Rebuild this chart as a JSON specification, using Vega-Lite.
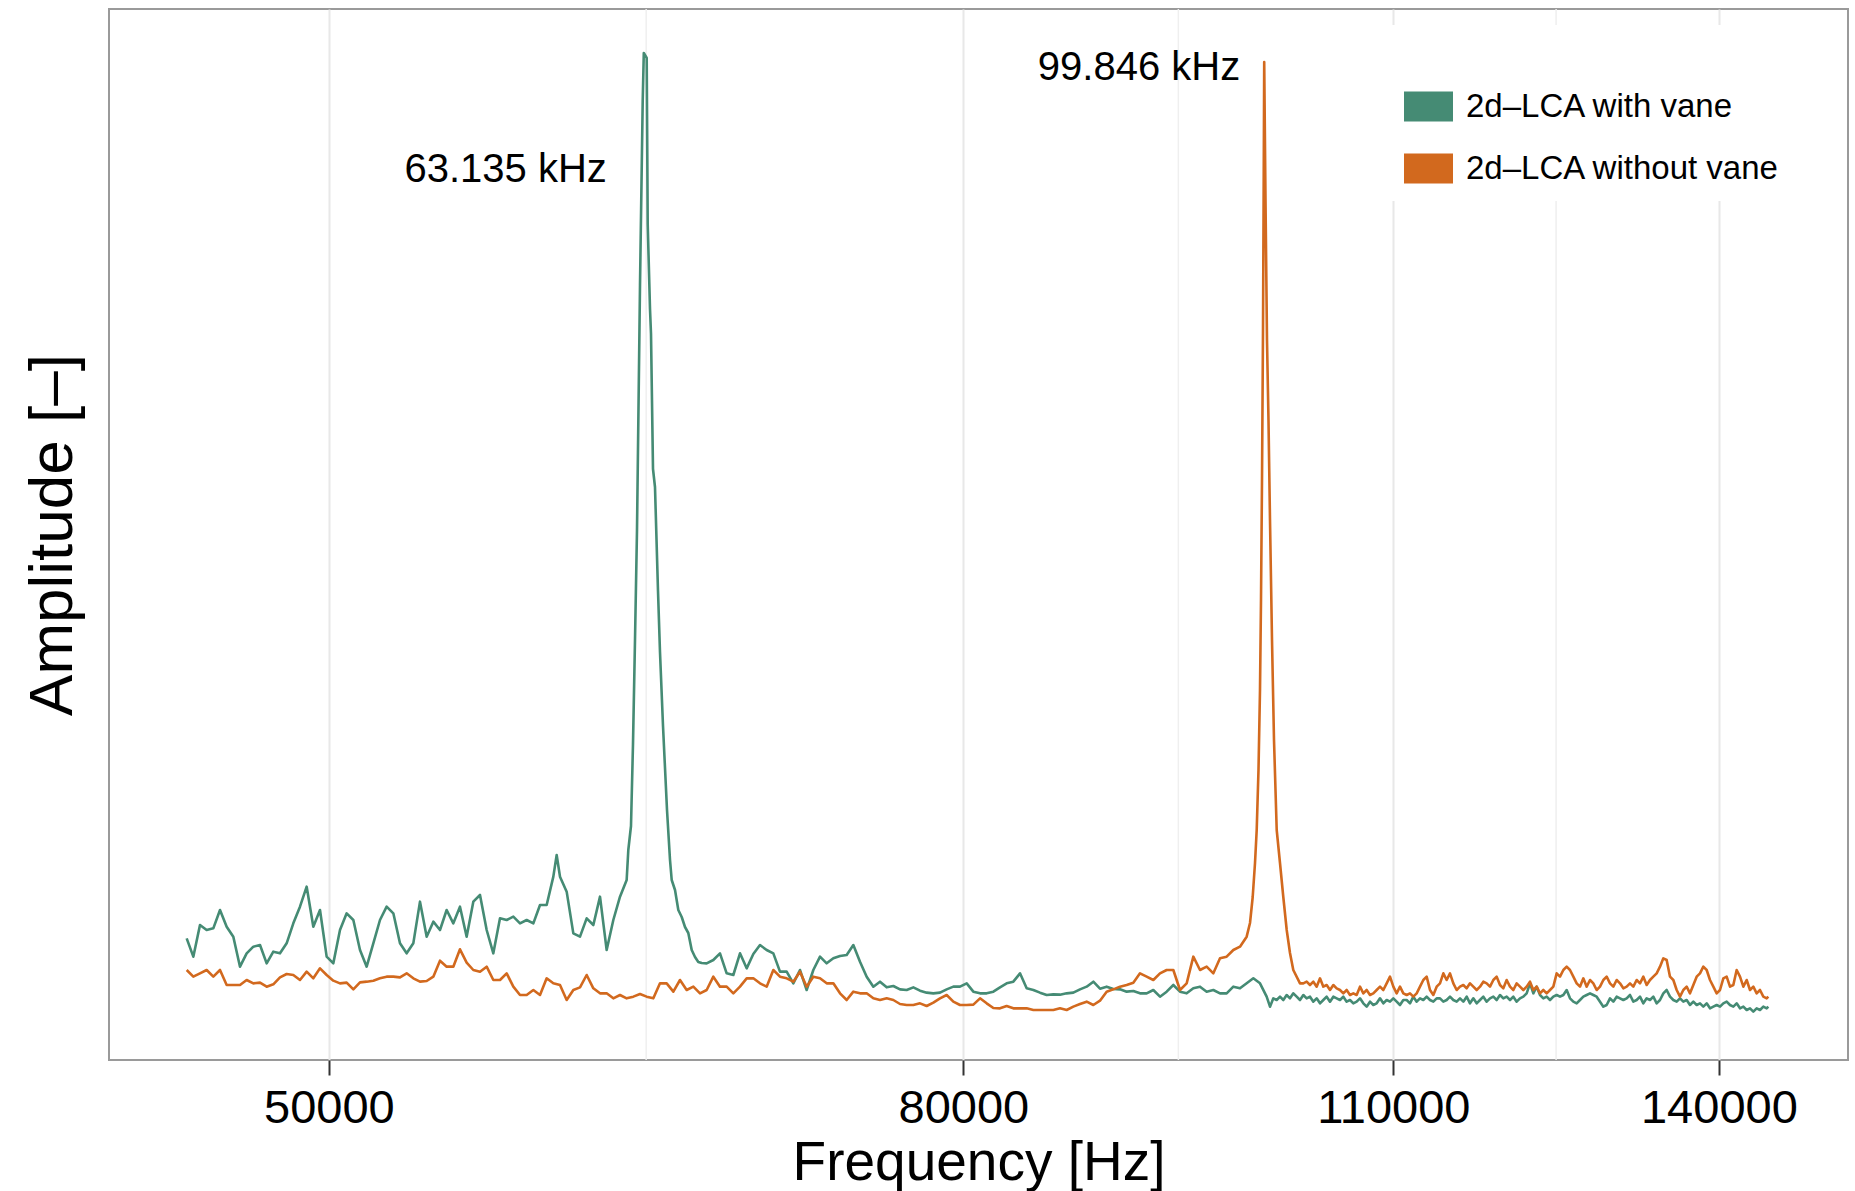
{
  "$schema": "https://vega.github.io/schema/vega-lite/v6.json",
  "width": 1739,
  "height": 1051,
  "autosize": {"type": "none"},
  "padding": {"left": 109, "top": 9, "right": 7, "bottom": 131},
  "background": "white",
  "config": {
    "font": "Liberation Sans",
    "view": {"stroke": "#9a9a9a", "strokeWidth": 2, "fill": "white"}
  },
  "datasets": {
    "withVane": [
      {"frequency":45000,"amplitude":36.5},{"frequency":45222,"amplitude":31.0},{"frequency":45446,"amplitude":40.5},{"frequency":45671,"amplitude":39.0},{"frequency":45897,"amplitude":39.5},{"frequency":46125,"amplitude":45.0},{"frequency":46353,"amplitude":40.0},{"frequency":46582,"amplitude":37.0},{"frequency":46813,"amplitude":28.0},{"frequency":47045,"amplitude":32.0},{"frequency":47278,"amplitude":34.0},{"frequency":47512,"amplitude":34.5},{"frequency":47747,"amplitude":29.0},{"frequency":47983,"amplitude":32.5},{"frequency":48221,"amplitude":32.0},{"frequency":48459,"amplitude":35.0},{"frequency":48699,"amplitude":41.0},{"frequency":48940,"amplitude":46.0},{"frequency":49183,"amplitude":52.0},{"frequency":49426,"amplitude":40.0},{"frequency":49671,"amplitude":45.0},{"frequency":49917,"amplitude":31.0},{"frequency":50164,"amplitude":29.0},{"frequency":50412,"amplitude":39.0},{"frequency":50662,"amplitude":44.0},{"frequency":50913,"amplitude":42.0},{"frequency":51165,"amplitude":33.0},{"frequency":51418,"amplitude":28.0},{"frequency":51672,"amplitude":35.0},{"frequency":51928,"amplitude":42.0},{"frequency":52185,"amplitude":46.0},{"frequency":52444,"amplitude":44.0},{"frequency":52703,"amplitude":35.0},{"frequency":52964,"amplitude":32.0},{"frequency":53226,"amplitude":35.0},{"frequency":53490,"amplitude":47.5},{"frequency":53755,"amplitude":37.0},{"frequency":54021,"amplitude":41.5},{"frequency":54288,"amplitude":39.0},{"frequency":54557,"amplitude":45.0},{"frequency":54827,"amplitude":41.0},{"frequency":55098,"amplitude":46.0},{"frequency":55371,"amplitude":37.0},{"frequency":55645,"amplitude":47.5},{"frequency":55921,"amplitude":49.5},{"frequency":56198,"amplitude":39.0},{"frequency":56476,"amplitude":32.0},
      {"frequency":56756,"amplitude":42.5},{"frequency":57037,"amplitude":42.0},{"frequency":57319,"amplitude":43.0},{"frequency":57603,"amplitude":41.0},{"frequency":57888,"amplitude":42.0},{"frequency":58175,"amplitude":41.0},{"frequency":58463,"amplitude":46.5},{"frequency":58752,"amplitude":46.5},{"frequency":59043,"amplitude":55.0},{"frequency":59189,"amplitude":61.5},{"frequency":59335,"amplitude":55.0},{"frequency":59629,"amplitude":50.5},{"frequency":59924,"amplitude":38.0},{"frequency":60221,"amplitude":37.0},{"frequency":60519,"amplitude":42.5},{"frequency":60819,"amplitude":40.5},{"frequency":61120,"amplitude":49.0},{"frequency":61422,"amplitude":33.0},{"frequency":61726,"amplitude":42.0},{"frequency":62032,"amplitude":49.0},{"frequency":62339,"amplitude":54.0},
      {"frequency":62415,"amplitude":63.0},{"frequency":62539,"amplitude":70.2},{"frequency":62632,"amplitude":94.8},{"frequency":62725,"amplitude":126.0},{"frequency":62818,"amplitude":159.0},{"frequency":62958,"amplitude":232.5},{"frequency":63084,"amplitude":287.7},{"frequency":63135,"amplitude":302.1},{"frequency":63271,"amplitude":300.6},{"frequency":63318,"amplitude":250.8},{"frequency":63426,"amplitude":225.3},{"frequency":63473,"amplitude":217.8},{"frequency":63567,"amplitude":177.3},{"frequency":63661,"amplitude":171.9},{"frequency":63803,"amplitude":140.7},{"frequency":63897,"amplitude":122.4},{"frequency":64040,"amplitude":100.2},{"frequency":64230,"amplitude":75.0},{"frequency":64373,"amplitude":60.0},{"frequency":64454,"amplitude":54.0},{"frequency":64612,"amplitude":51.0},{"frequency":64770,"amplitude":45.0},{"frequency":64933,"amplitude":42.9},{"frequency":65092,"amplitude":39.9},{"frequency":65251,"amplitude":38.1},{"frequency":65416,"amplitude":33.0},{"frequency":65576,"amplitude":30.9},{"frequency":65736,"amplitude":29.4},{"frequency":65902,"amplitude":29.1},
      {"frequency":66145,"amplitude":29.0},{"frequency":66472,"amplitude":30.0},{"frequency":66801,"amplitude":32.0},{"frequency":67132,"amplitude":26.0},{"frequency":67464,"amplitude":25.5},{"frequency":67798,"amplitude":32.0},{"frequency":68134,"amplitude":27.5},{"frequency":68471,"amplitude":31.8},{"frequency":68810,"amplitude":34.5},{"frequency":69151,"amplitude":33.0},{"frequency":69493,"amplitude":32.0},{"frequency":69837,"amplitude":26.5},{"frequency":70183,"amplitude":26.5},{"frequency":70530,"amplitude":23.0},{"frequency":70879,"amplitude":27.0},{"frequency":71230,"amplitude":21.0},{"frequency":71583,"amplitude":27.0},
      {"frequency":71938,"amplitude":31.0},{"frequency":72294,"amplitude":29.0},{"frequency":72652,"amplitude":30.5},{"frequency":73012,"amplitude":31.2},{"frequency":73373,"amplitude":31.5},{"frequency":73736,"amplitude":34.5},{"frequency":74101,"amplitude":29.5},{"frequency":74468,"amplitude":25.0},{"frequency":74837,"amplitude":22.0},{"frequency":75207,"amplitude":23.5},{"frequency":75580,"amplitude":21.8},{"frequency":75954,"amplitude":22.2},{"frequency":76330,"amplitude":21.2},{"frequency":76708,"amplitude":21.0},{"frequency":77087,"amplitude":21.8},{"frequency":77469,"amplitude":20.8},{"frequency":77852,"amplitude":20.2},{"frequency":78238,"amplitude":20.0},{"frequency":78625,"amplitude":20.2},{"frequency":79014,"amplitude":21.2},{"frequency":79406,"amplitude":22.0},{"frequency":79799,"amplitude":22.0},{"frequency":80194,"amplitude":23.0},{"frequency":80591,"amplitude":20.5},{"frequency":80990,"amplitude":20.0},{"frequency":81391,"amplitude":20.0},{"frequency":81794,"amplitude":20.5},{"frequency":82198,"amplitude":21.8},{"frequency":82605,"amplitude":23.0},{"frequency":83014,"amplitude":23.5},{"frequency":83425,"amplitude":26.0},{"frequency":83838,"amplitude":21.5},{"frequency":84253,"amplitude":21.0},{"frequency":84670,"amplitude":20.2},{"frequency":85090,"amplitude":19.5},{"frequency":85511,"amplitude":19.7},{"frequency":85934,"amplitude":19.6},{"frequency":86359,"amplitude":20.0},{"frequency":86787,"amplitude":20.2},{"frequency":87217,"amplitude":21.2},{"frequency":87648,"amplitude":22.0},{"frequency":88082,"amplitude":23.5},{"frequency":88518,"amplitude":21.4},{"frequency":88956,"amplitude":22.0},{"frequency":89397,"amplitude":21.3},{"frequency":89839,"amplitude":21.2},{"frequency":90284,"amplitude":20.5},{"frequency":90731,"amplitude":20.7},
      {"frequency":91180,"amplitude":20.0},{"frequency":91631,"amplitude":20.0},{"frequency":92085,"amplitude":21.0},{"frequency":92541,"amplitude":19.0},{"frequency":92999,"amplitude":20.5},{"frequency":93459,"amplitude":22.5},{"frequency":93922,"amplitude":20.5},{"frequency":94387,"amplitude":20.0},{"frequency":94854,"amplitude":21.5},{"frequency":95324,"amplitude":22.0},{"frequency":95796,"amplitude":20.5},{"frequency":96270,"amplitude":21.0},{"frequency":96747,"amplitude":20.0},{"frequency":97225,"amplitude":20.0},{"frequency":97707,"amplitude":22.0},{"frequency":98190,"amplitude":21.5},{"frequency":98677,"amplitude":23.0},{"frequency":99165,"amplitude":24.5},{"frequency":99656,"amplitude":23.0},
      {"frequency":100149,"amplitude":19.0},{"frequency":100397,"amplitude":16.0},{"frequency":100645,"amplitude":18.5},{"frequency":100894,"amplitude":18.0},{"frequency":101143,"amplitude":19.0},{"frequency":101393,"amplitude":18.0},{"frequency":101644,"amplitude":19.5},{"frequency":101895,"amplitude":18.5},{"frequency":102147,"amplitude":20.0},{"frequency":102400,"amplitude":19.0},{"frequency":102653,"amplitude":18.0},{"frequency":102907,"amplitude":19.5},{"frequency":103161,"amplitude":18.5},{"frequency":103416,"amplitude":19.0},{"frequency":103672,"amplitude":17.5},{"frequency":103928,"amplitude":18.5},{"frequency":104185,"amplitude":17.0},{"frequency":104443,"amplitude":18.0},{"frequency":104701,"amplitude":19.0},{"frequency":104960,"amplitude":17.5},{"frequency":105219,"amplitude":19.0},{"frequency":105479,"amplitude":18.5},{"frequency":105740,"amplitude":18.0},{"frequency":106001,"amplitude":19.0},{"frequency":106263,"amplitude":17.5},{"frequency":106526,"amplitude":18.0},{"frequency":106789,"amplitude":17.0},{"frequency":107053,"amplitude":17.5},{"frequency":107318,"amplitude":18.5},{"frequency":107583,"amplitude":17.0},{"frequency":107849,"amplitude":16.0},{"frequency":108116,"amplitude":17.5},{"frequency":108383,"amplitude":16.5},{"frequency":108651,"amplitude":17.0},{"frequency":108920,"amplitude":18.5},{"frequency":109189,"amplitude":17.0},{"frequency":109459,"amplitude":18.0},{"frequency":109730,"amplitude":17.5},{"frequency":110001,"amplitude":18.5},{"frequency":110273,"amplitude":17.5},{"frequency":110545,"amplitude":16.5},{"frequency":110818,"amplitude":18.0},{"frequency":111093,"amplitude":18.0},{"frequency":111368,"amplitude":17.0},{"frequency":111643,"amplitude":19.0},{"frequency":111919,"amplitude":17.5},{"frequency":112195,"amplitude":18.5},{"frequency":112472,"amplitude":18.0},{"frequency":112751,"amplitude":19.0},{"frequency":113030,"amplitude":18.0},{"frequency":113309,"amplitude":17.5},{"frequency":113589,"amplitude":18.5},{"frequency":113870,"amplitude":18.5},{"frequency":114152,"amplitude":17.5},{"frequency":114433,"amplitude":18.0},{"frequency":114716,"amplitude":19.0},{"frequency":115000,"amplitude":18.0},{"frequency":115284,"amplitude":17.5},
      {"frequency":115570,"amplitude":18.5},{"frequency":115856,"amplitude":17.5},{"frequency":116142,"amplitude":19.0},{"frequency":116429,"amplitude":17.0},{"frequency":116717,"amplitude":18.5},{"frequency":117006,"amplitude":17.0},{"frequency":117295,"amplitude":18.0},{"frequency":117585,"amplitude":19.0},{"frequency":117876,"amplitude":17.5},{"frequency":118167,"amplitude":18.5},{"frequency":118459,"amplitude":19.0},{"frequency":118752,"amplitude":18.0},{"frequency":119046,"amplitude":19.5},{"frequency":119340,"amplitude":18.5},{"frequency":119635,"amplitude":19.0},{"frequency":119931,"amplitude":18.0},{"frequency":120227,"amplitude":19.0},{"frequency":120524,"amplitude":17.5},{"frequency":120822,"amplitude":18.5},{"frequency":121121,"amplitude":19.0},{"frequency":121420,"amplitude":20.0},{"frequency":121720,"amplitude":23.0},{"frequency":122022,"amplitude":20.0},{"frequency":122324,"amplitude":22.0},{"frequency":122626,"amplitude":19.5},{"frequency":122929,"amplitude":18.5},{"frequency":123233,"amplitude":19.0},{"frequency":123538,"amplitude":18.0},{"frequency":123843,"amplitude":19.0},{"frequency":124149,"amplitude":19.5},{"frequency":124456,"amplitude":19.0},{"frequency":124764,"amplitude":19.5},{"frequency":125072,"amplitude":21.0},{"frequency":125381,"amplitude":18.5},{"frequency":125691,"amplitude":17.5},{"frequency":126002,"amplitude":17.0},{"frequency":126313,"amplitude":18.0},{"frequency":126625,"amplitude":19.0},{"frequency":126939,"amplitude":19.5},{"frequency":127253,"amplitude":20.0},{"frequency":127567,"amplitude":19.5},{"frequency":127882,"amplitude":19.0},{"frequency":128199,"amplitude":17.5},{"frequency":128516,"amplitude":16.0},{"frequency":128833,"amplitude":16.5},{"frequency":129152,"amplitude":18.5},{"frequency":129471,"amplitude":17.5},{"frequency":129791,"amplitude":19.0},{"frequency":130112,"amplitude":18.5},{"frequency":130434,"amplitude":18.0},{"frequency":130756,"amplitude":18.5},{"frequency":131079,"amplitude":19.5},{"frequency":131403,"amplitude":17.5},{"frequency":131728,"amplitude":18.0},{"frequency":132054,"amplitude":19.0},{"frequency":132381,"amplitude":17.0},{"frequency":132707,"amplitude":18.5},{"frequency":133035,"amplitude":18.0},{"frequency":133364,"amplitude":19.0},{"frequency":133694,"amplitude":17.0},{"frequency":134025,"amplitude":18.0},{"frequency":134356,"amplitude":20.0},{"frequency":134688,"amplitude":21.0},{"frequency":135021,"amplitude":19.0},{"frequency":135355,"amplitude":18.0},{"frequency":135690,"amplitude":17.5},{"frequency":136025,"amplitude":18.5},{"frequency":136361,"amplitude":17.5},{"frequency":136698,"amplitude":18.0},{"frequency":137036,"amplitude":16.5},{"frequency":137375,"amplitude":17.5},{"frequency":137715,"amplitude":16.5},{"frequency":138055,"amplitude":17.0},{"frequency":138396,"amplitude":16.0},{"frequency":138739,"amplitude":17.0},{"frequency":139082,"amplitude":15.5},{"frequency":139426,"amplitude":16.0},{"frequency":139771,"amplitude":16.5},{"frequency":140116,"amplitude":16.0},{"frequency":140462,"amplitude":17.0},{"frequency":140809,"amplitude":17.5},{"frequency":141157,"amplitude":16.5},{"frequency":141506,"amplitude":16.0},{"frequency":141856,"amplitude":17.0},{"frequency":142207,"amplitude":15.5},{"frequency":142559,"amplitude":16.0},{"frequency":142911,"amplitude":15.0},{"frequency":143264,"amplitude":15.5},{"frequency":143618,"amplitude":14.5},{"frequency":143973,"amplitude":15.5},{"frequency":144329,"amplitude":15.0},{"frequency":144686,"amplitude":16.0},{"frequency":145044,"amplitude":15.5},{"frequency":145223,"amplitude":16.0}
    ],
    "withoutVane": [
      {"frequency":45000,"amplitude":27.0},{"frequency":45222,"amplitude":25.0},{"frequency":45446,"amplitude":26.0},{"frequency":45671,"amplitude":27.0},{"frequency":45897,"amplitude":25.0},{"frequency":46125,"amplitude":27.0},{"frequency":46353,"amplitude":22.5},{"frequency":46582,"amplitude":22.5},{"frequency":46813,"amplitude":22.5},{"frequency":47045,"amplitude":24.0},{"frequency":47278,"amplitude":23.0},{"frequency":47512,"amplitude":23.2},{"frequency":47747,"amplitude":22.0},{"frequency":47983,"amplitude":22.7},{"frequency":48221,"amplitude":24.8},{"frequency":48459,"amplitude":25.8},{"frequency":48699,"amplitude":25.5},{"frequency":48940,"amplitude":24.0},{"frequency":49183,"amplitude":26.5},{"frequency":49426,"amplitude":24.5},{"frequency":49671,"amplitude":27.5},{"frequency":49917,"amplitude":25.5},{"frequency":50164,"amplitude":23.8},{"frequency":50412,"amplitude":23.0},{"frequency":50662,"amplitude":23.2},{"frequency":50913,"amplitude":21.2},{"frequency":51165,"amplitude":23.3},{"frequency":51418,"amplitude":23.5},{"frequency":51672,"amplitude":23.8},{"frequency":51928,"amplitude":24.5},{"frequency":52185,"amplitude":25.0},{"frequency":52444,"amplitude":25.0},{"frequency":52703,"amplitude":24.8},{"frequency":52964,"amplitude":26.0},{"frequency":53226,"amplitude":24.5},{"frequency":53490,"amplitude":23.5},{"frequency":53755,"amplitude":23.7},{"frequency":54021,"amplitude":25.0},{"frequency":54288,"amplitude":29.8},{"frequency":54557,"amplitude":28.0},{"frequency":54827,"amplitude":28.0},{"frequency":55098,"amplitude":33.2},{"frequency":55371,"amplitude":29.2},{"frequency":55645,"amplitude":27.0},{"frequency":55921,"amplitude":26.5},{"frequency":56198,"amplitude":28.0},{"frequency":56476,"amplitude":24.0},
      {"frequency":56756,"amplitude":24.0},{"frequency":57037,"amplitude":26.0},{"frequency":57319,"amplitude":22.0},{"frequency":57603,"amplitude":19.5},{"frequency":57888,"amplitude":19.5},{"frequency":58175,"amplitude":21.0},{"frequency":58463,"amplitude":19.5},{"frequency":58752,"amplitude":24.5},{"frequency":59043,"amplitude":23.0},{"frequency":59335,"amplitude":22.5},{"frequency":59629,"amplitude":18.0},{"frequency":59924,"amplitude":21.0},{"frequency":60221,"amplitude":21.8},{"frequency":60519,"amplitude":25.5},{"frequency":60819,"amplitude":21.5},{"frequency":61120,"amplitude":20.0},{"frequency":61422,"amplitude":20.0},{"frequency":61726,"amplitude":18.5},{"frequency":62032,"amplitude":19.5},{"frequency":62339,"amplitude":18.5},{"frequency":62648,"amplitude":19.0},{"frequency":62958,"amplitude":19.8},{"frequency":63269,"amplitude":19.0},{"frequency":63583,"amplitude":18.5},{"frequency":63897,"amplitude":23.0},{"frequency":64214,"amplitude":23.0},{"frequency":64532,"amplitude":20.5},{"frequency":64851,"amplitude":24.0},{"frequency":65172,"amplitude":21.0},{"frequency":65495,"amplitude":22.0},{"frequency":65819,"amplitude":20.0},{"frequency":66145,"amplitude":21.0},{"frequency":66472,"amplitude":25.0},{"frequency":66801,"amplitude":22.0},{"frequency":67132,"amplitude":22.0},{"frequency":67464,"amplitude":20.0},{"frequency":67798,"amplitude":22.0},{"frequency":68134,"amplitude":24.5},{"frequency":68471,"amplitude":24.5},{"frequency":68810,"amplitude":23.0},{"frequency":69151,"amplitude":22.0},{"frequency":69493,"amplitude":27.0},{"frequency":69837,"amplitude":25.0},{"frequency":70183,"amplitude":24.5},{"frequency":70530,"amplitude":23.5},{"frequency":70879,"amplitude":26.5},{"frequency":71230,"amplitude":22.0},{"frequency":71583,"amplitude":25.0},
      {"frequency":71938,"amplitude":24.5},{"frequency":72294,"amplitude":23.0},{"frequency":72652,"amplitude":23.0},{"frequency":73012,"amplitude":20.0},{"frequency":73373,"amplitude":18.0},{"frequency":73736,"amplitude":20.5},{"frequency":74101,"amplitude":20.0},{"frequency":74468,"amplitude":20.0},{"frequency":74837,"amplitude":18.5},{"frequency":75207,"amplitude":18.0},{"frequency":75580,"amplitude":18.5},{"frequency":75954,"amplitude":18.0},{"frequency":76330,"amplitude":16.8},{"frequency":76708,"amplitude":16.5},{"frequency":77087,"amplitude":16.5},{"frequency":77469,"amplitude":17.0},{"frequency":77852,"amplitude":16.2},{"frequency":78238,"amplitude":17.2},{"frequency":78625,"amplitude":18.5},{"frequency":79014,"amplitude":19.5},{"frequency":79406,"amplitude":17.5},{"frequency":79799,"amplitude":16.5},{"frequency":80194,"amplitude":16.5},{"frequency":80591,"amplitude":16.6},{"frequency":80990,"amplitude":18.5},{"frequency":81391,"amplitude":17.0},{"frequency":81794,"amplitude":15.6},{"frequency":82198,"amplitude":15.5},{"frequency":82605,"amplitude":16.2},{"frequency":83014,"amplitude":15.5},{"frequency":83425,"amplitude":15.5},{"frequency":83838,"amplitude":15.5},{"frequency":84253,"amplitude":15.0},{"frequency":84670,"amplitude":15.0},{"frequency":85090,"amplitude":15.0},{"frequency":85511,"amplitude":15.0},{"frequency":85934,"amplitude":15.5},{"frequency":86359,"amplitude":15.0},{"frequency":86787,"amplitude":16.0},{"frequency":87217,"amplitude":16.8},{"frequency":87648,"amplitude":17.5},{"frequency":88082,"amplitude":16.5},{"frequency":88518,"amplitude":17.8},{"frequency":88956,"amplitude":20.5},{"frequency":89397,"amplitude":21.2},{"frequency":89839,"amplitude":22.0},{"frequency":90284,"amplitude":22.5},{"frequency":90731,"amplitude":23.2},
      {"frequency":91180,"amplitude":26.0},{"frequency":91631,"amplitude":25.0},{"frequency":92085,"amplitude":24.0},{"frequency":92541,"amplitude":26.0},{"frequency":92999,"amplitude":27.0},{"frequency":93459,"amplitude":27.0},{"frequency":93922,"amplitude":21.0},{"frequency":94387,"amplitude":23.0},{"frequency":94854,"amplitude":31.0},{"frequency":95324,"amplitude":27.0},{"frequency":95796,"amplitude":28.0},{"frequency":96270,"amplitude":26.0},{"frequency":96747,"amplitude":30.5},{"frequency":97225,"amplitude":31.0},{"frequency":97707,"amplitude":33.0},{"frequency":98190,"amplitude":34.0},{"frequency":98677,"amplitude":37.0},
      {"frequency":98921,"amplitude":41.1},{"frequency":99119,"amplitude":48.9},{"frequency":99288,"amplitude":59.1},{"frequency":99413,"amplitude":69.0},{"frequency":99545,"amplitude":87.0},{"frequency":99656,"amplitude":111.0},{"frequency":99730,"amplitude":138.0},{"frequency":99804,"amplitude":174.0},{"frequency":99878,"amplitude":219.0},{"frequency":99930,"amplitude":264.0},{"frequency":99967,"amplitude":299.4},{"frequency":100063,"amplitude":258.0},{"frequency":100174,"amplitude":216.0},{"frequency":100285,"amplitude":192.0},{"frequency":100397,"amplitude":162.0},{"frequency":100546,"amplitude":126.0},{"frequency":100695,"amplitude":96.0},{"frequency":100897,"amplitude":69.0},{"frequency":101143,"amplitude":59.1},{"frequency":101391,"amplitude":48.9},{"frequency":101647,"amplitude":39.0},{"frequency":101895,"amplitude":32.1},{"frequency":102145,"amplitude":27.0},
      {"frequency":102653,"amplitude":23.0},{"frequency":102907,"amplitude":23.0},{"frequency":103161,"amplitude":23.5},{"frequency":103416,"amplitude":22.5},{"frequency":103672,"amplitude":23.5},{"frequency":103928,"amplitude":22.0},{"frequency":104185,"amplitude":24.5},{"frequency":104443,"amplitude":22.0},{"frequency":104701,"amplitude":22.5},{"frequency":104960,"amplitude":21.0},{"frequency":105219,"amplitude":22.5},{"frequency":105479,"amplitude":21.5},{"frequency":105740,"amplitude":21.0},{"frequency":106001,"amplitude":20.0},{"frequency":106263,"amplitude":21.0},{"frequency":106526,"amplitude":19.5},{"frequency":106789,"amplitude":20.0},{"frequency":107053,"amplitude":19.5},{"frequency":107318,"amplitude":22.0},{"frequency":107583,"amplitude":20.0},{"frequency":107849,"amplitude":21.0},{"frequency":108116,"amplitude":19.5},{"frequency":108383,"amplitude":20.0},{"frequency":108651,"amplitude":21.0},{"frequency":108920,"amplitude":22.0},{"frequency":109189,"amplitude":21.0},{"frequency":109459,"amplitude":23.0},{"frequency":109730,"amplitude":25.0},{"frequency":110001,"amplitude":22.0},{"frequency":110273,"amplitude":20.0},{"frequency":110545,"amplitude":22.0},{"frequency":110818,"amplitude":20.0},{"frequency":111093,"amplitude":19.5},{"frequency":111368,"amplitude":20.0},{"frequency":111643,"amplitude":19.0},{"frequency":111919,"amplitude":20.0},{"frequency":112195,"amplitude":22.0},{"frequency":112472,"amplitude":24.0},{"frequency":112751,"amplitude":25.0},{"frequency":113030,"amplitude":21.0},{"frequency":113309,"amplitude":19.5},{"frequency":113589,"amplitude":22.0},{"frequency":113870,"amplitude":23.0},{"frequency":114152,"amplitude":26.0},{"frequency":114433,"amplitude":24.0},{"frequency":114716,"amplitude":26.0},{"frequency":115000,"amplitude":23.0},{"frequency":115284,"amplitude":21.0},
      {"frequency":115570,"amplitude":22.0},{"frequency":115856,"amplitude":22.5},{"frequency":116142,"amplitude":21.5},{"frequency":116429,"amplitude":23.0},{"frequency":116717,"amplitude":22.0},{"frequency":117006,"amplitude":21.0},{"frequency":117295,"amplitude":22.0},{"frequency":117585,"amplitude":23.5},{"frequency":117876,"amplitude":23.0},{"frequency":118167,"amplitude":22.0},{"frequency":118459,"amplitude":24.0},{"frequency":118752,"amplitude":25.0},{"frequency":119046,"amplitude":22.5},{"frequency":119340,"amplitude":21.5},{"frequency":119635,"amplitude":24.0},{"frequency":119931,"amplitude":22.0},{"frequency":120227,"amplitude":21.0},{"frequency":120524,"amplitude":23.0},{"frequency":120822,"amplitude":22.0},{"frequency":121121,"amplitude":21.0},{"frequency":121420,"amplitude":22.0},{"frequency":121720,"amplitude":23.5},{"frequency":122022,"amplitude":21.0},{"frequency":122324,"amplitude":22.0},{"frequency":122626,"amplitude":20.0},{"frequency":122929,"amplitude":21.0},{"frequency":123233,"amplitude":20.0},{"frequency":123538,"amplitude":21.0},{"frequency":123843,"amplitude":22.0},{"frequency":124149,"amplitude":26.0},{"frequency":124456,"amplitude":25.0},{"frequency":124764,"amplitude":27.0},{"frequency":125072,"amplitude":28.0},{"frequency":125381,"amplitude":27.0},{"frequency":125691,"amplitude":25.0},{"frequency":126002,"amplitude":23.0},{"frequency":126313,"amplitude":22.0},{"frequency":126625,"amplitude":24.5},{"frequency":126939,"amplitude":22.0},{"frequency":127253,"amplitude":24.0},{"frequency":127567,"amplitude":23.0},{"frequency":127882,"amplitude":21.0},{"frequency":128199,"amplitude":22.0},{"frequency":128516,"amplitude":24.0},{"frequency":128833,"amplitude":25.0},{"frequency":129152,"amplitude":23.0},{"frequency":129471,"amplitude":22.0},{"frequency":129791,"amplitude":24.0},{"frequency":130112,"amplitude":23.0},{"frequency":130434,"amplitude":21.5},{"frequency":130756,"amplitude":22.0},{"frequency":131079,"amplitude":23.0},{"frequency":131403,"amplitude":22.0},{"frequency":131728,"amplitude":24.0},{"frequency":132054,"amplitude":23.0},{"frequency":132381,"amplitude":25.0},{"frequency":132707,"amplitude":22.5},{"frequency":133035,"amplitude":24.0},{"frequency":133364,"amplitude":25.0},{"frequency":133694,"amplitude":26.0},{"frequency":134025,"amplitude":28.0},{"frequency":134356,"amplitude":30.5},{"frequency":134688,"amplitude":30.0},{"frequency":135021,"amplitude":25.0},{"frequency":135355,"amplitude":24.0},{"frequency":135690,"amplitude":21.0},{"frequency":136025,"amplitude":19.0},{"frequency":136361,"amplitude":21.0},{"frequency":136698,"amplitude":22.0},{"frequency":137036,"amplitude":20.0},{"frequency":137375,"amplitude":22.5},{"frequency":137715,"amplitude":25.0},{"frequency":138055,"amplitude":26.0},{"frequency":138396,"amplitude":28.0},{"frequency":138739,"amplitude":27.0},{"frequency":139082,"amplitude":24.0},{"frequency":139426,"amplitude":22.0},{"frequency":139771,"amplitude":20.0},{"frequency":140116,"amplitude":21.0},{"frequency":140462,"amplitude":24.5},{"frequency":140809,"amplitude":25.0},{"frequency":141157,"amplitude":22.0},{"frequency":141506,"amplitude":22.5},{"frequency":141856,"amplitude":27.0},{"frequency":142207,"amplitude":25.0},{"frequency":142559,"amplitude":22.0},{"frequency":142911,"amplitude":24.0},{"frequency":143264,"amplitude":21.0},{"frequency":143618,"amplitude":22.0},{"frequency":143973,"amplitude":20.0},{"frequency":144329,"amplitude":21.0},{"frequency":144686,"amplitude":19.0},{"frequency":145044,"amplitude":18.5},{"frequency":145223,"amplitude":19.0}
    ],
    "minorGrid": [{"frequency":63246},{"frequency":93808},{"frequency":124097}],
    "peakLabels": [
      {"frequency":56992,"amplitude":263.4,"label":"63.135 kHz"},
      {"frequency":91113,"amplitude":294,"label":"99.846 kHz"}
    ]
  },
  "encoding": {
    "x": {
      "field": "frequency",
      "type": "quantitative",
      "scale": {"type": "log", "domain": [42484, 154051], "nice": false, "zero": false},
      "axis": {
        "values": [50000, 80000, 110000, 140000],
        "format": "d",
        "title": "Frequency [Hz]",
        "grid": true,
        "gridColor": "#e8e8e8",
        "gridWidth": 2,
        "domain": false,
        "ticks": true,
        "tickColor": "#333333",
        "tickWidth": 2,
        "tickSize": 15,
        "labelFont": "Liberation Sans",
        "labelFontSize": 47,
        "labelColor": "#000000",
        "labelPadding": 10,
        "labelFlush": false,
        "labelOverlap": false,
        "titleFont": "Liberation Sans",
        "titleFontSize": 55,
        "titleFontWeight": "normal",
        "titleColor": "#000000",
        "titlePadding": 5
      }
    }
  },
  "layer": [
    {
      "data": {"name": "minorGrid"},
      "mark": {"type": "rule", "color": "#efefef", "strokeWidth": 1.5},
      "encoding": {}
    },
    {
      "data": {"name": "withVane"},
      "mark": {"type": "line", "strokeWidth": 2.6, "strokeJoin": "round"},
      "encoding": {
        "y": {
          "field": "amplitude", "type": "quantitative",
          "scale": {"domain": [0, 315.3], "nice": false, "zero": false},
          "axis": {"labels": false, "ticks": false, "domain": false, "grid": false, "title": "Amplitude [–]", "titleFont": "Liberation Sans", "titleFontSize": 62, "titleFontWeight": "normal", "titleColor": "#000000", "titlePadding": 25}
        },
        "color": {
          "datum": "2d–LCA with vane",
          "type": "nominal",
          "scale": {"domain": ["2d–LCA with vane", "2d–LCA without vane"], "range": ["#458B74", "#D2691E"]},
          "legend": {
            "orient": "none",
            "legendX": 1280,
            "legendY": 16,
            "title": " ",
            "titleFontSize": 30,
            "titlePadding": 12,
            "padding": 15,
            "fillColor": "white",
            "strokeColor": null,
            "symbolType": "M-1,-0.612H1V0.612H-1Z",
            "symbolSize": 2401,
            "symbolStrokeWidth": 0,
            "labelFont": "Liberation Sans",
            "labelFontSize": 33,
            "labelColor": "#000000",
            "labelOffset": 13,
            "rowPadding": 20,
            "labelLimit": 600,
            "encode": {"symbols": {"update": {"fill": {"scale": "color", "field": "value"}, "fillOpacity": {"value": 1}, "strokeWidth": {"value": 0}}}}
          }
        }
      }
    },
    {
      "data": {"name": "withoutVane"},
      "mark": {"type": "line", "strokeWidth": 2.6, "strokeJoin": "round"},
      "encoding": {
        "y": {"field": "amplitude", "type": "quantitative"},
        "color": {"datum": "2d–LCA without vane", "type": "nominal"}
      }
    },
    {
      "data": {"name": "peakLabels"},
      "mark": {"type": "text", "align": "center", "baseline": "alphabetic", "font": "Liberation Sans", "fontSize": 40, "color": "#000000"},
      "encoding": {
        "y": {"field": "amplitude", "type": "quantitative"},
        "text": {"field": "label"}
      }
    }
  ]
}
